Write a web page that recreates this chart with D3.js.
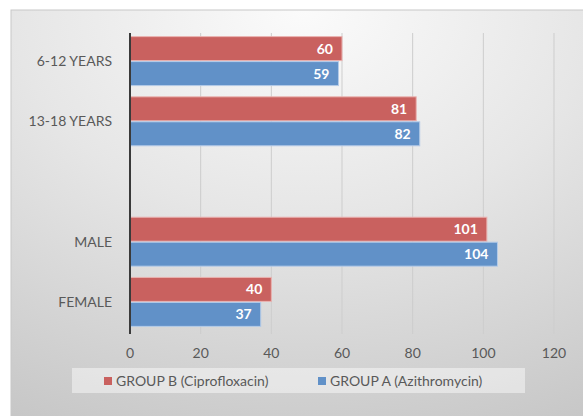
<!DOCTYPE html>
<html>
<head>
<meta charset="utf-8">
<script src="https://cdn.jsdelivr.net/npm/d3@7"></script>
<style>
  body { margin: 0; background: #fff; }
  svg { display: block; font-family: Lato, "Open Sans", sans-serif; }
</style>
</head>
<body>
<svg id="chart" width="583" height="416"></svg>
<script>
var categories = ['6-12 YEARS', '13-18 YEARS', '', 'MALE', 'FEMALE'];
var seriesNames = ['GROUP B (Ciprofloxacin)', 'GROUP A (Azithromycin)'];
var groupB = [60, 81, null, 101, 40];
var groupA = [59, 82, null, 104, 37];
var xTicks = [0, 20, 40, 60, 80, 100, 120];
var colors = ['#c9615f', '#6191c8'];

var svg = d3.select('#chart');

// background with soft radial shading
var defs = svg.append('defs');
var grad = defs.append('radialGradient')
  .attr('id', 'bg')
  .attr('cx', '50%').attr('cy', '0%')
  .attr('r', '110%');
grad.append('stop').attr('offset', '0%').attr('stop-color', '#fbfbfb');
grad.append('stop').attr('offset', '45%').attr('stop-color', '#e6e6e6');
grad.append('stop').attr('offset', '100%').attr('stop-color', '#c6c6c6');

svg.append('rect')
  .attr('x', 11).attr('y', 10)
  .attr('width', 583).attr('height', 420)
  .attr('fill', 'url(#bg)')
  .attr('stroke', '#c8c8c8');

var x = d3.scaleLinear().domain([0, 120]).range([130, 554]);
var y = d3.scaleBand().domain(d3.range(categories.length))
  .range([31, 332]).paddingInner(0.17).paddingOuter(0.085);
var ySub = d3.scaleBand().domain([0, 1]).range([0, y.bandwidth()]);

// gridlines
svg.append('g').selectAll('line')
  .data(xTicks.slice(1))
  .join('line')
  .attr('x1', function(d) { return x(d); })
  .attr('x2', function(d) { return x(d); })
  .attr('y1', 33).attr('y2', 334)
  .attr('stroke', '#cdcdcd')
  .attr('stroke-width', 1);

// bars
var rows = categories.map(function(c, i) {
  return { i: i, values: [groupB[i], groupA[i]] };
});

var groups = svg.append('g').selectAll('g')
  .data(rows)
  .join('g')
  .attr('transform', function(d) { return 'translate(0,' + y(d.i) + ')'; });

var bars = groups.selectAll('g')
  .data(function(d) {
    return d.values.map(function(v, s) { return { v: v, s: s }; })
      .filter(function(e) { return e.v !== null; });
  })
  .join('g');

bars.append('rect')
  .attr('x', x(0))
  .attr('y', function(d) { return ySub(d.s) + 0.5; })
  .attr('width', function(d) { return x(d.v) - x(0); })
  .attr('height', ySub.bandwidth() - 1)
  .attr('fill', function(d) { return colors[d.s]; })
  .attr('stroke', function(d) { return d.s === 0 ? '#eab3b1' : '#b4cbe8'; })
  .attr('stroke-width', 1);

bars.append('text')
  .attr('x', function(d) { return x(d.v) - 9; })
  .attr('y', function(d) { return ySub(d.s) + ySub.bandwidth() / 2; })
  .attr('dy', '0.36em')
  .attr('text-anchor', 'end')
  .attr('fill', '#ffffff')
  .attr('font-weight', 'bold')
  .attr('font-size', 14)
  .text(function(d) { return d.v; });

// vertical axis line
svg.append('line')
  .attr('x1', x(0)).attr('x2', x(0))
  .attr('y1', 33).attr('y2', 334)
  .attr('stroke', '#3a3a3a')
  .attr('stroke-width', 2);

// category labels
svg.append('g').selectAll('text')
  .data(categories)
  .join('text')
  .attr('x', 112)
  .attr('y', function(d, i) { return y(i) + y.bandwidth() / 2; })
  .attr('dy', '0.35em')
  .attr('text-anchor', 'end')
  .attr('fill', '#595959')
  .attr('font-size', 14)
  .text(function(d) { return d; });

// x tick labels
svg.append('g').selectAll('text')
  .data(xTicks)
  .join('text')
  .attr('x', function(d) { return x(d); })
  .attr('y', 353)
  .attr('dy', '0.35em')
  .attr('text-anchor', 'middle')
  .attr('fill', '#595959')
  .attr('font-size', 14)
  .text(function(d) { return d; });

// legend
svg.append('rect')
  .attr('x', 72).attr('y', 368)
  .attr('width', 453).attr('height', 25)
  .attr('fill', '#ffffff')
  .attr('fill-opacity', 0.45);

var legendX = [104, 318];
var legend = svg.append('g').selectAll('g')
  .data(seriesNames)
  .join('g')
  .attr('transform', function(d, i) { return 'translate(' + legendX[i] + ',381)'; });

legend.append('rect')
  .attr('x', 0).attr('y', -4)
  .attr('width', 8).attr('height', 8)
  .attr('fill', function(d, i) { return colors[i]; });

legend.append('text')
  .attr('x', 12)
  .attr('dy', '0.35em')
  .attr('fill', '#595959')
  .attr('font-size', 14)
  .text(function(d) { return d; });
</script>
</body>
</html>
